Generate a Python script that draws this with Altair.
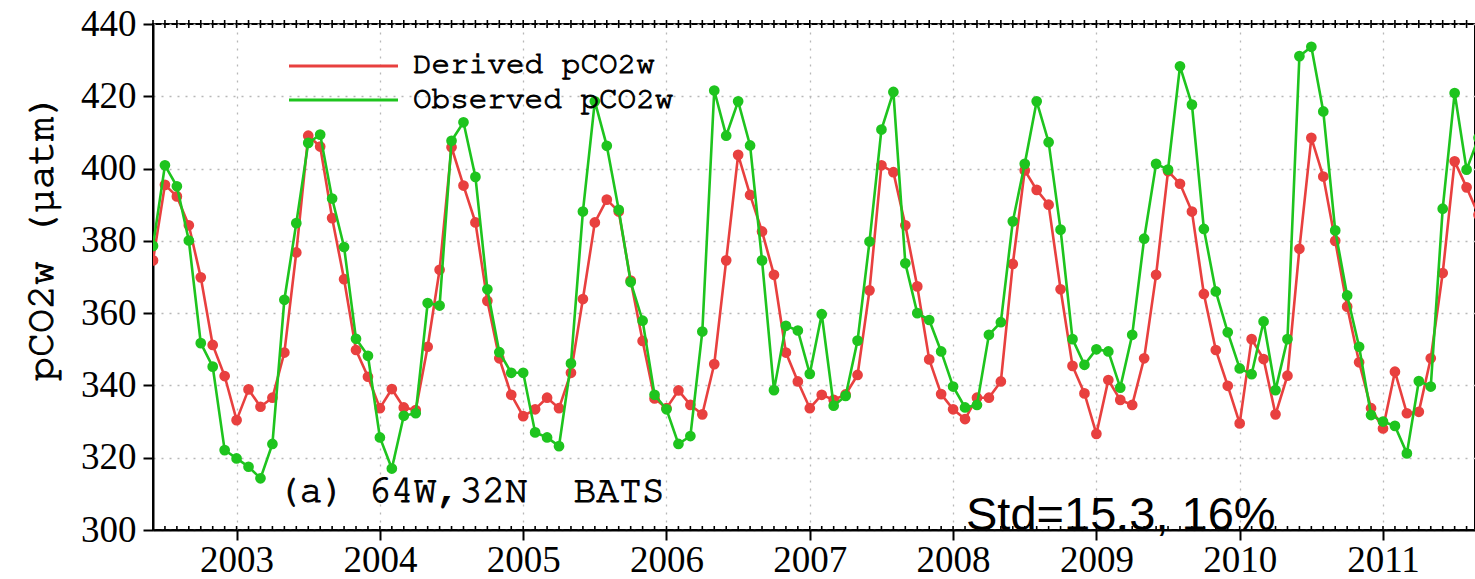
import altair as alt
import pandas as pd

# Monthly series, BATS station (64W, 32N), starting June 2002
start_year = 2002
start_month = 6  # June
observed = [
    378.6, 400.9, 395.1, 380.1, 351.7, 345.2, 322.1, 319.8, 317.5, 314.3,
    323.8, 363.7, 384.9, 407.1, 409.4, 391.7, 378.3, 352.9, 348.2, 325.6,
    317.0, 331.6, 332.3, 362.8, 362.1, 407.7, 412.8, 397.7, 366.6, 349.2,
    343.5, 343.5, 327.0, 325.6, 323.2, 346.1, 388.1, 418.6, 406.3, 388.6,
    368.6, 357.9, 337.4, 333.4, 323.8, 326.0, 354.9, 421.6, 409.1, 418.6,
    406.4, 374.6, 338.7, 356.5, 355.2, 343.2, 359.7, 334.4, 337.1, 352.4,
    379.8, 410.8, 421.2, 373.8, 360.0, 358.1, 349.4, 339.7, 333.9, 334.6,
    354.0, 357.5, 385.4, 401.3, 418.6, 407.3, 383.1, 352.8, 345.7, 350.0,
    349.4, 339.4, 354.0, 380.6, 401.3, 399.7, 428.3, 417.7, 383.3, 366.0,
    354.7, 344.7, 343.1, 357.7, 338.7, 352.8, 431.1, 433.7, 415.8, 382.9,
    364.9, 350.7, 331.8, 330.0, 328.8, 321.2, 341.2, 339.7, 388.9, 420.9,
    399.7, 408.5,
]
derived = [
    374.6, 395.5, 392.3, 384.3, 369.9, 351.2, 342.6, 330.4, 338.9, 334.1,
    336.6, 349.1, 376.8, 409.1, 406.1, 386.3, 369.4, 349.8, 342.4, 333.7,
    339.0, 333.9, 333.2, 350.7, 372.0, 405.9, 395.3, 385.1, 363.4, 347.5,
    337.4, 331.5, 333.4, 336.6, 333.7, 343.5, 363.9, 385.1, 391.4, 388.1,
    369.0, 352.3, 336.4, 333.7, 338.6, 334.6, 332.0, 345.9, 374.6, 403.8,
    392.7, 382.6, 370.6, 349.1, 341.1, 333.7, 337.4, 336.0, 337.5, 342.9,
    366.3, 400.9, 399.0, 384.3, 367.4, 347.2, 337.6, 333.4, 330.7, 336.6,
    336.6, 341.1, 373.6, 399.5, 394.1, 390.0, 366.6, 345.4, 337.8, 326.6,
    341.5, 336.0, 334.6, 347.5, 370.6, 399.3, 395.8, 388.1, 365.3, 349.8,
    339.9, 329.5, 352.8, 347.3, 332.0, 342.7, 377.8, 408.5, 397.8, 380.0,
    361.8, 346.4, 333.7, 328.1, 343.8, 332.3, 332.7, 347.5, 371.1, 402.0,
    394.8, 387.2,
]
year_ticks = [2003, 2004, 2005, 2006, 2007, 2008, 2009, 2010, 2011]
y_ticks = [300, 320, 340, 360, 380, 400, 420, 440]
legend_labels = ["Derived pCO2w", "Observed pCO2w"]
panel_label = "(a) 64W,32N \u00a0BATS"
std_label = "Std=15.3, 16%"
y_title = "pCO2w (\u03bcatm)"

RED = "#e8403f"
GREEN = "#1ec41e"
MONO = "'Nimbus Mono PS', 'Nimbus Mono L', FreeMono, 'Courier New', Courier, 'Liberation Mono'"

W, H = 1322, 506
x0 = start_year + (start_month - 1) / 12
x1 = x0 + 9.2254
x_scale = alt.Scale(domain=[x0, x1], nice=False, zero=False)
y_scale = alt.Scale(domain=[300, 440], nice=False, zero=False)

t = [start_year + (start_month - 1 + i) / 12 for i in range(len(observed))]
df = pd.DataFrame({"t": t, "observed": observed, "derived": derived})
months = pd.DataFrame({"t": [start_year + (start_month - 1 + i) / 12 for i in range(0, 112)]})
one = pd.DataFrame({"a": [0]})

grid_axis = dict(gridColor="#b8b8b8", gridDash=[2, 6], gridWidth=1.3)

x_axis = alt.Axis(
    values=year_ticks, format="d", title=None, tickSize=10, tickWidth=2,
    tickColor="black", domainColor="black", domainWidth=2,
    labelFont="Liberation Serif", labelFontSize=37, labelPadding=2,
    labelColor="black", labelFlush=False, **grid_axis)
y_axis = alt.Axis(
    values=y_ticks, title=None, tickSize=10, tickWidth=2,
    tickColor="black", domainColor="black", domainWidth=2,
    labelFont="Liberation Serif", labelFontSize=37, labelPadding=7,
    labelColor="black", **grid_axis)


def series(col, color):
    enc = dict(
        x=alt.X("t:Q", scale=x_scale, axis=x_axis),
        y=alt.Y(f"{col}:Q", scale=y_scale, axis=y_axis),
    )
    ln = alt.Chart(df).mark_line(color=color, strokeWidth=2.6, clip=True).encode(**enc)
    pt = alt.Chart(df).mark_circle(color=color, size=115, opacity=1, clip=True).encode(**enc)
    return ln + pt


# monthly minor ticks on bottom and top frame lines
minor_bottom = alt.Chart(months).mark_rule(color="black", strokeWidth=1.6, clip=True).encode(
    x=alt.X("t:Q", scale=x_scale, axis=x_axis), y=alt.value(H - 4), y2=alt.value(H + 4))
minor_top = alt.Chart(months).mark_rule(color="black", strokeWidth=1.6, clip=False).encode(
    x=alt.X("t:Q", scale=x_scale, axis=x_axis), y=alt.value(-4), y2=alt.value(4))

# in-plot legend
leg_red = alt.Chart(one).mark_rule(color=RED, strokeWidth=3).encode(
    x=alt.value(136), x2=alt.value(245), y=alt.value(42))
leg_green = alt.Chart(one).mark_rule(color=GREEN, strokeWidth=3).encode(
    x=alt.value(136), x2=alt.value(245), y=alt.value(76))
txt_style = dict(font=MONO, fontSize=31, color="black", stroke="black",
                 strokeWidth=1.0, align="left", baseline="alphabetic")
leg_t1 = alt.Chart(one).mark_text(text=legend_labels[0], **txt_style).encode(
    x=alt.value(260), y=alt.value(49))
leg_t2 = alt.Chart(one).mark_text(text=legend_labels[1], **txt_style).encode(
    x=alt.value(260), y=alt.value(84))

panel = alt.Chart(one).mark_text(
    text=panel_label, font=MONO, fontSize=38, color="black",
    stroke="black", strokeWidth=1.0, align="left", baseline="alphabetic",
).encode(x=alt.value(124), y=alt.value(478))

# vertical axis title, drawn as text so it can carry the same stroke weight
y_title_mark = alt.Chart(one).mark_text(
    text=y_title, font=MONO, fontSize=40, color="black", stroke="black",
    strokeWidth=1.0, angle=270, align="center", baseline="middle",
).encode(x=alt.value(-112), y=alt.value(213))

std = alt.Chart(one).mark_text(
    text=std_label, font="Liberation Sans", fontSize=47, color="black",
    align="left", baseline="alphabetic",
).encode(x=alt.value(813), y=alt.value(506))

chart = alt.layer(
    minor_bottom,
    minor_top,
    series("derived", RED),
    series("observed", GREEN),
    leg_red, leg_green, leg_t1, leg_t2,
    panel,
    y_title_mark,
    std,
).properties(
    width=W,
    height=H,
    autosize=alt.AutoSizeParams(type="none"),
    padding={"left": 153, "top": 24, "right": 0, "bottom": 49},
    background="white",
).configure_view(stroke="black", strokeWidth=2)

chart.save("out.html", embed_options={"renderer": "svg", "actions": False})
